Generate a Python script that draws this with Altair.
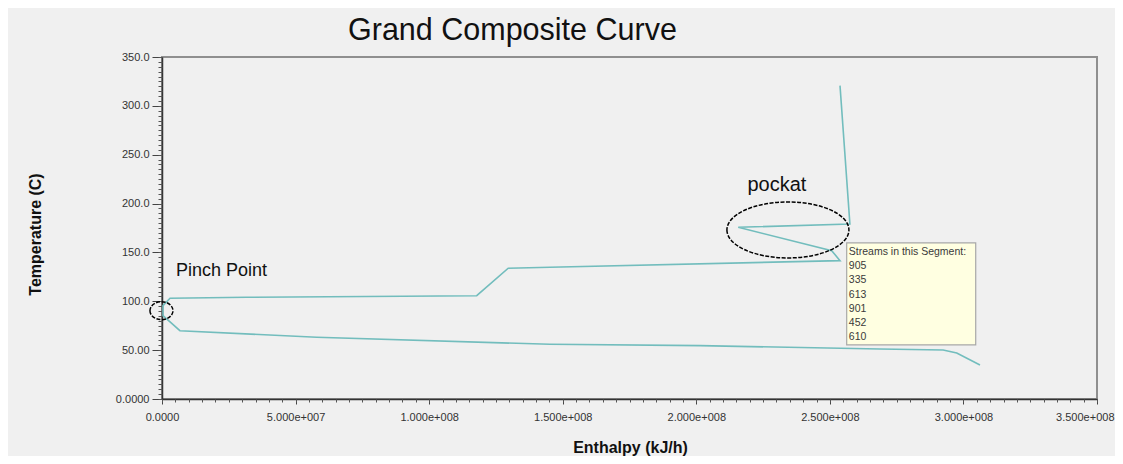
import altair as alt
import pandas as pd

# ---- data ----
gcc_enthalpy = [2.538e8, 2.575e8, 2.157e8, 2.507e8, 2.538e8, 1.452e8, 1.296e8, 1.178e8,
                3.17e7, 3.0e6, 3.7e5, 3.7e5, 6.7e6, 5.79e7, 1.452e8, 2.014e8, 2.687e8,
                2.924e8, 2.975e8, 3.062e8]
gcc_temperature = [320.7, 179.1, 175.7, 151.8, 141.6, 134.8, 133.8, 105.7,
                   104.1, 103.1, 95.5, 85.3, 69.9, 63.2, 56.0, 54.6, 51.2,
                   50.2, 47.1, 34.8]

x_tick_labels = ["0.0000", "5.000e+007", "1.000e+008", "1.500e+008", "2.000e+008",
                 "2.500e+008", "3.000e+008", "3.500e+008"]
y_tick_labels = ["0.0000", "50.00", "100.0", "150.0", "200.0", "250.0", "300.0", "350.0"]

tooltip_lines = ["Streams in this Segment:", "905", "335", "613", "901", "452", "610"]
tooltip_line_temp = [150.8, 136.4, 121.8, 106.8, 92.1, 77.8, 63.8]
tooltip_line_enthalpy = [2.571e8] * 7
tooltip_box_enthalpy = [2.563e8, 3.046e8]
tooltip_box_temp = [159.7, 55.3]

note_text = ["pockat", "Pinch Point"]
note_enthalpy = [2.302e8, 5.24e6]
note_temp = [213.2, 126.2]

pocket_center = (2.343e8, 173.0)
pinch_center = (-2.0e5, 90.4)

# ---- tables ----
gcc = pd.DataFrame({"H": gcc_enthalpy, "T": gcc_temperature, "i": range(len(gcc_enthalpy))})
tip = pd.DataFrame({"H": tooltip_line_enthalpy, "T": tooltip_line_temp, "t": tooltip_lines})
box = pd.DataFrame({"H": [tooltip_box_enthalpy[0]], "H2": [tooltip_box_enthalpy[1]],
                    "T": [tooltip_box_temp[0]], "T2": [tooltip_box_temp[1]]})
notes_pockat = pd.DataFrame({"H": [note_enthalpy[0]], "T": [note_temp[0]], "t": [note_text[0]]})
notes_pinch = pd.DataFrame({"H": [note_enthalpy[1]], "T": [note_temp[1]], "t": [note_text[1]]})
pocket = pd.DataFrame({"H": [pocket_center[0]], "T": [pocket_center[1]]})
pinch = pd.DataFrame({"H": [pinch_center[0]], "T": [pinch_center[1]]})

xscale = alt.Scale(domain=[0, 3.5e8], nice=False, zero=False)
yscale = alt.Scale(domain=[0, 350], nice=False, zero=False)

x_major = [i * 50000000 for i in range(len(x_tick_labels))]
y_major = [i * 50 for i in range(len(y_tick_labels))]
x_minor = list(range(0, 350000001, 5000000))
y_minor = list(range(0, 351, 5))
x_lab = "[" + ",".join("'%s'" % s for s in x_tick_labels) + "][round(datum.value / 50000000)]"
y_lab = "[" + ",".join("'%s'" % s for s in y_tick_labels) + "][round(datum.value / 50)]"

FONT = "Liberation Sans"

x_axis = alt.Axis(values=x_major, labelExpr=x_lab, title="Enthalpy (kJ/h)", grid=False, orient="bottom",
                  labelOverlap=False, labelFlush=False, labelFont=FONT, labelFontSize=11,
                  labelColor="#333333", labelPadding=7, tickSize=5,
                  labelAlign={"condition": {"test": "datum.value >= 350000000", "value": "right"},
                              "value": "center"},
                  labelOffset={"condition": {"test": "datum.value >= 350000000", "value": 17},
                               "value": 0},
                  tickColor="#444444", domainColor="#333333", domainWidth=1.5,
                  titleFont=FONT, titleFontSize=16, titleFontWeight="bold", titleColor="#111111",
                  titleX=468, titleY=48, titleBaseline="middle", titleAlign="center")
y_axis = alt.Axis(values=y_major, labelExpr=y_lab, title="Temperature (C)", grid=False, orient="left",
                  labelOverlap=False, labelFlush=False, labelFont=FONT, labelFontSize=11,
                  labelColor="#333333", labelPadding=3, tickSize=10,
                  tickColor="#444444", domainColor="#333333", domainWidth=1.5,
                  titleFont=FONT, titleFontSize=16, titleFontWeight="bold", titleColor="#111111",
                  titleX=-127, titleY=177, titleAngle=270, titleBaseline="middle", titleAlign="center")
x_minor_axis = alt.Axis(values=x_minor, labels=False, domain=False, grid=False, title=None,
                        orient="bottom", tickSize=3, tickColor="#555555")
y_minor_axis = alt.Axis(values=y_minor, labels=False, domain=False, grid=False, title=None,
                        orient="left", tickSize=4, tickColor="#555555")

line = alt.Chart(gcc).mark_line(color="#72bdbd", strokeWidth=1.6).encode(
    x=alt.X("H:Q", scale=xscale, axis=x_axis),
    y=alt.Y("T:Q", scale=yscale, axis=y_axis),
    order=alt.Order("i:Q"),
)

def X(f):
    return alt.X(f, scale=xscale, axis=None)

def Y(f):
    return alt.Y(f, scale=yscale, axis=None)

rect = alt.Chart(box).mark_rect(fill="#ffffe1", stroke="#a8a8a8", strokeWidth=1.2).encode(
    x=alt.X("H:Q", scale=xscale, axis=x_minor_axis), x2="H2:Q",
    y=alt.Y("T:Q", scale=yscale, axis=y_minor_axis), y2="T2:Q")

tip_text = alt.Chart(tip).mark_text(align="left", baseline="middle", font=FONT, fontSize=10.5,
                                    color="#3a3a3a").encode(x=X("H:Q"), y=Y("T:Q"), text="t:N")

ell_pocket = alt.Chart(pocket).mark_point(
    shape="M -1 0 A 1 0.459 0 1 0 1 0 A 1 0.459 0 1 0 -1 0",
    size=122 * 122, filled=False, stroke="black", strokeWidth=1.5, strokeDash=[4, 1.5], opacity=1
).encode(x=X("H:Q"), y=Y("T:Q"))

ell_pinch = alt.Chart(pinch).mark_point(
    shape="M -1 0 A 1 0.78 0 1 0 1 0 A 1 0.78 0 1 0 -1 0",
    size=23 * 23, filled=False, stroke="black", strokeWidth=1.5, strokeDash=[4, 1.5], opacity=1
).encode(x=X("H:Q"), y=Y("T:Q"))

pockat_text = alt.Chart(notes_pockat).mark_text(align="center", baseline="alphabetic", font=FONT,
                                                fontSize=20, color="#111111").encode(
    x=X("H:Q"), y=Y("T:Q"), text="t:N")
pinch_text = alt.Chart(notes_pinch).mark_text(align="left", baseline="alphabetic", font=FONT,
                                              fontSize=18, color="#111111").encode(
    x=X("H:Q"), y=Y("T:Q"), text="t:N")

chart = alt.layer(line, rect, tip_text, ell_pocket, ell_pinch, pockat_text, pinch_text).resolve_axis(
    x="independent", y="independent"
).properties(
    width=935, height=342,
    padding={"left": 154, "top": 49, "right": 18, "bottom": 57},
    autosize=alt.AutoSizeParams(type="none"),
    background="#f0f0f0",
    title=alt.TitleParams("Grand Composite Curve", font=FONT, fontSize=30.5, fontWeight="normal",
                          color="#111111", anchor="start", frame="group", dx=186, dy=33, offset=14,
                          baseline="alphabetic"),
).configure_view(stroke="#8f8f8f", strokeWidth=2)

chart.save("out.html", embed_options={"renderer": "svg", "actions": False})
